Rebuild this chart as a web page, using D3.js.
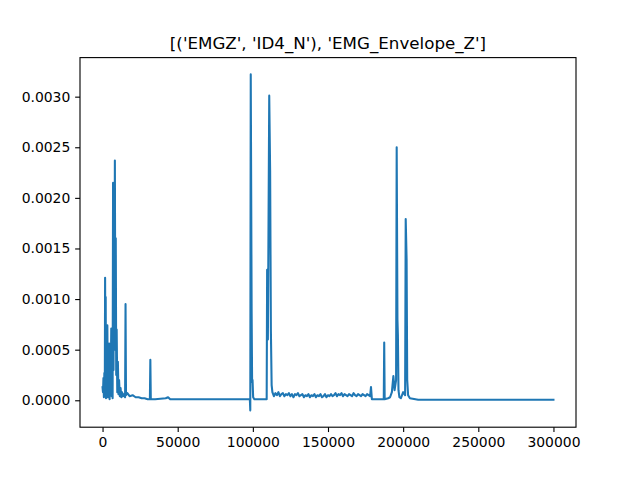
<!DOCTYPE html>
<html>
<head>
<meta charset="utf-8">
<script src="https://cdn.jsdelivr.net/npm/d3@7"></script>
<style>
  body { margin: 0; background: #fff; }
  svg text { font-family: "DejaVu Sans", sans-serif; }
</style>
</head>
<body>
<div id="chartDiv"></div>
<script>
var chartTitle = "[('EMGZ', 'ID4_N'), 'EMG_Envelope_Z']";

// sample index of each breakpoint
var sampleIdx = [
  0, 300, 600, 900, 1200, 1500, 1700, 1900, 2100, 2300,
  2600, 2900, 3200, 3500, 3800, 4100, 4400, 4700, 5000, 5400,
  5800, 6100, 6400, 6700, 7000, 7300, 7600, 7900, 8200, 8500,
  8800, 9100, 9400, 9800, 10200, 10600, 11000, 11500, 12000, 12500,
  13000, 13500, 14000, 15000, 15300, 15600, 16500, 18000, 20000, 22000,
  24000, 26000, 28000, 30000, 31500, 31800, 32100, 35000, 42000, 43600,
  45000, 60000, 75000, 90000, 98000, 98300, 98600, 98900, 99200, 99500,
  99800, 100200, 101000, 109200, 109500, 110000, 110900, 111500, 112000, 112500,
  113000, 114000, 115000, 116000, 117000, 118000, 119000, 120000, 121000, 122000,
  123000, 124000, 125000, 126000, 127000, 128000, 129000, 130000, 131000, 132000,
  133000, 134000, 135000, 136000, 137000, 138000, 139000, 140000, 141000, 142000,
  143000, 144000, 145000, 146000, 147000, 148000, 149000, 150000, 151000, 152000,
  153000, 154000, 155000, 156000, 157000, 158000, 159000, 160000, 161000, 162000,
  163000, 164000, 165000, 166000, 167000, 168000, 169000, 170000, 171000, 172000,
  173000, 174000, 175000, 176000, 177000, 178000, 178600, 179200, 183000, 187100,
  187400, 187700, 190000, 191300, 192500, 193500, 194300, 195300, 195700, 196200,
  196500, 196900, 197500, 198500, 200000, 201300, 201700, 202300, 202700, 203300,
  204500, 210000, 250000, 300000
];

// EMG envelope value at each breakpoint
var envelope = [
  0.00013, 0.00008, 0.00022, 0.00003, 0.00027, 0.00005, 0.00121, 0.00030, 0.00102, 0.00002,
  0.00045, 0.00010, 0.00074, 0.00003, 0.00040, 0.00008, 0.00056, 0.00001, 0.00038, 0.00012,
  0.00071, 0.00004, 0.00052, 0.00002, 0.00215, 0.00030, 0.00180, 0.00050, 0.00237, 0.00060,
  0.00160, 0.00025, 0.00070, 0.00008, 0.00038, 0.00006, 0.00020, 0.00004, 0.00012, 0.00003,
  0.00008, 0.00004, 0.00006, 0.00003, 0.00095, 0.00005, 0.00007, 0.00004, 0.00005, 0.00003,
  0.00003, 0.00002, 0.00002, 0.00001, 0.00001, 0.00040, 0.00001, 0.00001, 0.00002, 0.00003,
  0.00001, 0.00001, 0.00001, 0.00001, 0.00001, -0.00010, 0.00322, 0.00203, 0.00086, 0.00018,
  0.00020, 0.00003, 0.00001, 0.00001, 0.00129, 0.00060, 0.00301, 0.00227, 0.00069, 0.00015,
  0.00008, 0.00004, 0.00007, 0.00005, 0.00008, 0.00004, 0.00006, 0.00007, 0.00004, 0.00006,
  0.00005, 0.00007, 0.00004, 0.00006, 0.00003, 0.00006, 0.00005, 0.00007, 0.00004, 0.00005,
  0.00006, 0.00003, 0.00005, 0.00004, 0.00006, 0.00003, 0.00005, 0.00004, 0.00006, 0.00003,
  0.00005, 0.00004, 0.00006, 0.00003, 0.00004, 0.00006, 0.00003, 0.00005, 0.00004, 0.00006,
  0.00004, 0.00005, 0.00007, 0.00004, 0.00006, 0.00005, 0.00007, 0.00004, 0.00006, 0.00005,
  0.00004, 0.00006, 0.00005, 0.00004, 0.00007, 0.00005, 0.00004, 0.00006, 0.00005, 0.00004,
  0.00006, 0.00005, 0.00004, 0.00006, 0.00005, 0.00004, 0.00013, 0.00001, 0.00001, 0.00001,
  0.00057, 0.00001, 0.00002, 0.00003, 0.00008, 0.00024, 0.00010, 0.00020, 0.00250, 0.00080,
  0.00064, 0.00010, 0.00003, 0.00002, 0.00008, 0.00005, 0.00179, 0.00139, 0.00020, 0.00005,
  0.00002, 0.000005, 0.000005, 0.000005
];

var yTickVals = [0, 0.0005, 0.0010, 0.0015, 0.0020, 0.0025, 0.0030];
var xTickVals = [0, 50000, 100000, 150000, 200000, 250000, 300000];

var width = 640, height = 480;
var margin = {top: 57.6, right: 64, bottom: 52.8, left: 80};
var plotW = width - margin.left - margin.right,
    plotH = height - margin.top - margin.bottom;

var data = sampleIdx.map(function(s, i) { return {x: s, y: envelope[i]}; });

// matplotlib style autoscale: 5% padding on each side
var xMin = d3.min(sampleIdx), xMax = d3.max(sampleIdx);
var yMin = d3.min(envelope), yMax = d3.max(envelope);
var xPad = (xMax - xMin) * 0.05, yPad = (yMax - yMin) * 0.05;

var x = d3.scaleLinear().domain([xMin - xPad, xMax + xPad]).range([0, plotW]);
var y = d3.scaleLinear().domain([yMin - yPad, yMax + yPad]).range([plotH, 0]);

var svg = d3.select("#chartDiv")
  .append("svg")
    .attr("width", width)
    .attr("height", height)
  .append("g")
    .attr("transform", "translate(" + margin.left + "," + margin.top + ")");

svg.append("defs").append("clipPath").attr("id", "plotClip")
  .append("rect").attr("width", plotW).attr("height", plotH);

// the trace (1.5pt line)
svg.append("path")
  .datum(data)
  .attr("clip-path", "url(#plotClip)")
  .attr("fill", "none")
  .attr("stroke", "#1f77b4")
  .attr("stroke-width", 2.08)
  .attr("stroke-linejoin", "round")
  .attr("stroke-linecap", "square")
  .attr("d", d3.line()
    .x(function(d) { return x(d.x); })
    .y(function(d) { return y(d.y); }));

// axes
var xAxis = svg.append("g")
  .attr("transform", "translate(0," + plotH + ")")
  .call(d3.axisBottom(x).tickValues(xTickVals).tickFormat(d3.format("d"))
    .tickSizeInner(4.86).tickSizeOuter(0).tickPadding(4.86));

var yAxis = svg.append("g")
  .call(d3.axisLeft(y).tickValues(yTickVals).tickFormat(d3.format(".4f"))
    .tickSizeInner(4.86).tickSizeOuter(0).tickPadding(4.86));

[xAxis, yAxis].forEach(function(ax) {
  ax.select(".domain").remove();
  ax.selectAll(".tick line").attr("stroke", "#000").attr("stroke-width", 1.11);
  ax.selectAll(".tick text").attr("fill", "#000").style("font-size", "13.9px");
});

// frame
svg.append("rect")
  .attr("width", plotW)
  .attr("height", plotH)
  .attr("fill", "none")
  .attr("stroke", "#000")
  .attr("stroke-width", 1.11);

svg.append("text")
  .attr("x", plotW / 2)
  .attr("y", -8.3)
  .attr("text-anchor", "middle")
  .style("font-size", "16.7px")
  .text(chartTitle);
</script>
</body>
</html>
